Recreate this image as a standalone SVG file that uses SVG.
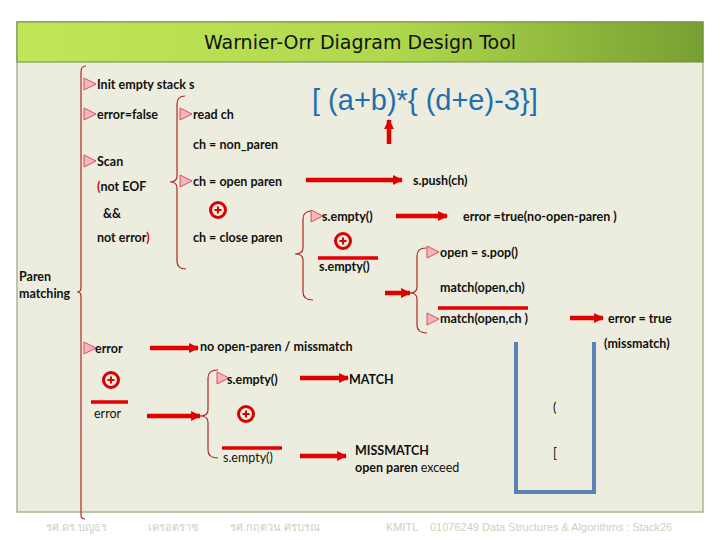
<svg xmlns="http://www.w3.org/2000/svg" width="720" height="540" viewBox="0 0 720 540">
<defs>
<linearGradient id="tg" x1="0" y1="0" x2="1" y2="0">
<stop offset="0" stop-color="#c2e65a"/>
<stop offset="0.55" stop-color="#b0d84c"/>
<stop offset="1" stop-color="#77a033"/>
</linearGradient>
<marker id="ah" viewBox="0 0 10 10" refX="9" refY="5" markerWidth="2.2" markerHeight="2.2" orient="auto" markerUnits="strokeWidth">
<path d="M0,0 L10,5 L0,10 z" fill="#e00000"/>
</marker>
<g id="plus">
<circle cx="0" cy="0" r="7.5" fill="none" stroke="#d80000" stroke-width="3"/>
<path d="M-3.5,0 H3.5 M0,-3.5 V3.5" stroke="#d80000" stroke-width="2"/>
</g>
<path id="tri" d="M0,-6 L12,0 L0,6 z" fill="#f6b4bc" stroke="#d85060" stroke-width="1"/>
</defs>
<style>
.t{font-family:Lato,"Open Sans","DejaVu Sans",sans-serif;font-size:12.5px;font-weight:bold;fill:#111}
.n{font-weight:normal}
.b{fill:none;stroke:#b02828;stroke-width:1.2}
.a{stroke:#e00000;stroke-width:4.5;fill:none;marker-end:url(#ah)}
.ol{stroke:#e00000;stroke-width:3.5}
.r{fill:#d80000}
.f{font-family:"Liberation Sans","Noto Sans","DejaVu Sans",sans-serif;font-size:11px;fill:#cfd0c0}
</style>
<rect width="720" height="540" fill="#ffffff"/>
<rect id="panel" x="17" y="22" width="686" height="490" fill="#ecedde" stroke="#a9b68e" stroke-width="1.5"/>
<g id="title">
<rect x="17" y="22" width="686" height="40" fill="url(#tg)" stroke="#6f8a3c" stroke-width="1"/>
<text x="360" y="49" text-anchor="middle" font-family="DejaVu Sans,sans-serif" font-size="19" fill="#111">Warnier-Orr Diagram Design Tool</text>
</g>
<g id="expression">
<text x="312" y="110" font-family="Liberation Sans,Arial,sans-serif" font-size="29" fill="#1f6fb0">[ (a+b)*{ (d+e)-3}]</text>
</g>
<g id="braces">
<path class="b" d="M86,66 Q81,66 81,72 L81,288 Q81,292 77,292 Q81,292 81,296 L81,515 Q81,519 85,519"/>
<path class="b" d="M185,96 Q177,96 177,104 L177,176 Q177,182 170,182 Q177,182 177,188 L177,261 Q177,269 186,269"/>
<path class="b" d="M312,211 Q303,211 303,219 L303,248 Q303,254 295,254 Q303,254 303,260 L303,292 Q303,300 313,300"/>
<path class="b" d="M426,248 Q417,248 417,256 L417,287 Q417,293 410,293 Q417,293 417,299 L417,325 Q417,333 427,333"/>
<path class="b" d="M218,370 Q208,370 208,378 L208,410 Q208,416 200,416 Q208,416 208,422 L208,450 Q208,458 218,458"/>
</g>
<g id="connectors">
<path class="a" d="M306,180 H402"/>
<path class="a" d="M396,216 H447"/>
<path class="a" d="M385,293 H410"/>
<path class="a" d="M570,318 H603"/>
<path class="a" d="M150,348 H198"/>
<path class="a" d="M147,416 H200"/>
<path class="a" d="M300,378 H348"/>
<path class="a" d="M300,456 H346"/>
<path class="a" d="M389,144 V120"/>
</g>
<g id="paren-matching"><text class="t" x="19" y="281">Paren</text><text class="t" x="19" y="298">matching</text></g>
<g id="init"><use href="#tri" x="84" y="84"/><text class="t" x="97" y="89">Init empty stack s</text></g>
<g id="error-false"><use href="#tri" x="84" y="114"/><text class="t" x="97" y="119">error=false</text></g>
<g id="scan"><use href="#tri" x="84" y="161"/><text class="t" x="97" y="166">Scan</text>
<text class="t" x="97" y="191"><tspan class="r">(</tspan>not EOF</text>
<text class="t" x="103" y="218">&amp;&amp;</text>
<text class="t" x="97" y="242">not error<tspan class="r">)</tspan></text></g>
<g id="read-ch"><use href="#tri" x="180" y="114"/><text class="t" x="193" y="119">read ch</text></g>
<g id="non-paren"><text class="t" x="193" y="149">ch = non_paren</text></g>
<g id="open-paren"><use href="#tri" x="180" y="181"/><text class="t" x="193" y="186">ch = open paren</text></g>
<g id="plus1"><use href="#plus" x="218" y="210"/></g>
<g id="close-paren"><text class="t" x="193" y="242">ch = close paren</text></g>
<g id="push"><text class="t" x="413" y="185">s.push(ch)</text></g>
<g id="empty1"><use href="#tri" x="311" y="216"/><text class="t" x="322" y="221">s.empty()</text></g>
<g id="err-noopen"><text class="t" x="463" y="221">error =true(no-open-paren )</text></g>
<g id="plus2"><use href="#plus" x="343" y="241"/></g>
<g id="notempty1"><line class="ol" x1="318" y1="258" x2="378" y2="258"/><text class="t" x="319" y="271">s.empty()</text></g>
<g id="pop"><use href="#tri" x="427" y="252"/><text class="t" x="440" y="257">open = s.pop()</text></g>
<g id="match"><text class="t" x="440" y="292">match(open,ch)</text></g>
<g id="nomatch"><line class="ol" x1="438" y1="308" x2="528" y2="308"/><use href="#tri" x="427" y="319"/><text class="t" x="440" y="323">match(open,ch )</text></g>
<g id="err-mismatch"><text class="t" x="608" y="323">error = true</text><text class="t" x="604" y="348">(missmatch)</text></g>
<g id="error"><use href="#tri" x="84" y="348"/><text class="t" x="95" y="353">error</text></g>
<g id="noopen"><text class="t" x="200" y="351">no open-paren  / missmatch</text></g>
<g id="plus3"><use href="#plus" x="111" y="380"/></g>
<g id="noterror"><line class="ol" x1="91" y1="402" x2="128" y2="402"/><text class="t n" x="94" y="418">error</text></g>
<g id="empty2"><use href="#tri" x="217" y="378"/><text class="t" x="227" y="384">s.empty()</text></g>
<g id="matchres"><text class="t" x="349" y="384">MATCH</text></g>
<g id="plus4"><use href="#plus" x="246" y="414"/></g>
<g id="notempty2"><line class="ol" x1="222" y1="448" x2="282" y2="448"/><text class="t n" x="223" y="462">s.empty()</text></g>
<g id="mismatch"><text class="t" x="355" y="455">MISSMATCH</text><text class="t" x="355" y="472">open paren <tspan class="n">exceed</tspan></text></g>
<g id="stack">
<path d="M516,342 V492 H594 V342" fill="none" stroke="#5b82b5" stroke-width="4"/>
<text class="t n" x="553" y="412">(</text>
<text class="t n" x="553" y="458">[</text>
</g>
<g id="footer">
<text class="f" x="46" y="531">รศ.ดร.บญธร</text>
<text class="f" x="148" y="531">เครอตราช</text>
<text class="f" x="230" y="531">รศ.กฤตวน  ศรบรณ</text>
<text class="f" x="386" y="531">KMITL</text>
<text class="f" x="430" y="531">01076249 Data Structures &amp; Algorithms : Stack26</text>
</g>
</svg>
